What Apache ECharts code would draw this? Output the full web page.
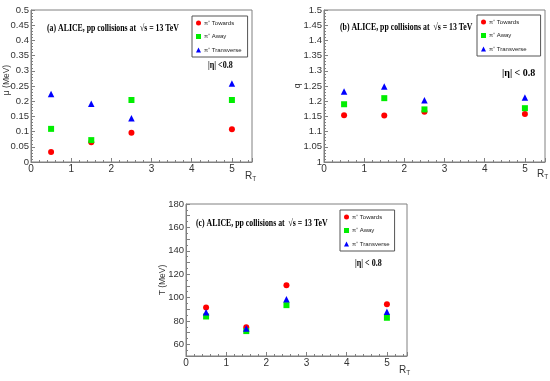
<!DOCTYPE html>
<html>
<head>
<meta charset="utf-8">
<script src="https://cdn.jsdelivr.net/npm/echarts@6/dist/echarts.min.js"></script>
<style>html,body{margin:0;padding:0;background:#fff}#c{width:550px;height:381px}</style>
</head>
<body>
<div id="c"></div>
<script>
const rT = [0.5, 1.5, 2.5, 5];
const seriesNames = ['π⁺ Towards', 'π⁺ Away', 'π⁺ Transverse'];
const muTowards = [0.033, 0.065, 0.096, 0.108];
const muAway = [0.109, 0.072, 0.204, 0.204];
const muTransverse = [0.224, 0.192, 0.144, 0.258];
const qTowards = [1.154, 1.153, 1.165, 1.158];
const qAway = [1.190, 1.210, 1.173, 1.177];
const qTransverse = [1.232, 1.248, 1.203, 1.212];
const tTowards = [91.5, 74.5, 110.5, 94.3];
const tAway = [83.8, 71.3, 93.5, 82.7];
const tTransverse = [87.5, 73.6, 98.6, 87.8];

const panelData = [
  [muTowards, muAway, muTransverse],
  [qTowards, qAway, qTransverse],
  [tTowards, tAway, tTransverse]
];
const symbols = ['circle', 'rect', 'triangle'];
const colors = ['#ff0000', '#00ee00', '#0000ff'];
const symSizes = [6, 6, 6.5];

const chart = echarts.init(document.getElementById('c'), null, {renderer: 'canvas'});
const axisGray = '#808080';
const labelColor = '#333';
const sans = '"Liberation Sans", Arial, sans-serif';
const serif = '"Liberation Serif", "Times New Roman", serif';

const grids = [
  {left: 31, top: 10, width: 221, height: 152},
  {left: 324, top: 10, width: 221, height: 152},
  {left: 186, top: 204, width: 221, height: 152}
].map(g => Object.assign({show: true, borderColor: axisGray, borderWidth: 1, backgroundColor: 'transparent',
  containLabel: false, outerBoundsMode: 'none'}, g));

function xAxis(i) {
  return {
    type: 'value', gridIndex: i, min: 0, max: 5.5, interval: 1,
    axisLine: {show: true, lineStyle: {color: axisGray}},
    axisTick: {show: true, inside: true, length: 4, lineStyle: {color: axisGray}},
    minorTick: {show: true, splitNumber: 5, length: 2, lineStyle: {color: axisGray}},
    splitLine: {show: false},
    axisLabel: {show: true, color: labelColor, fontFamily: sans, fontSize: 10, margin: 2,
      formatter: v => (Math.abs(v - Math.round(v)) < 1e-9 ? String(Math.round(v)) : '')}
  };
}
function yAxis(i, o) {
  return Object.assign({
    type: 'value', gridIndex: i,
    nameLocation: 'middle',
    nameMoveOverlap: false,
    nameTextStyle: {color: labelColor, fontFamily: sans, fontSize: 8.5},
    axisLine: {show: true, lineStyle: {color: axisGray}},
    axisTick: {show: true, inside: true, length: 4, lineStyle: {color: axisGray}},
    minorTick: {show: true, splitNumber: 5, length: 2, lineStyle: {color: axisGray}},
    splitLine: {show: false},
    axisLabel: {show: true, color: labelColor, fontFamily: sans, fontSize: 9.5, margin: 2}
  }, o);
}

const yAxes = [
  yAxis(0, {min: 0, max: 0.5, interval: 0.05}),
  yAxis(1, {min: 1, max: 1.5, interval: 0.05, name: 'q', nameGap: 22}),
  yAxis(2, {min: 50, max: 180, interval: 10, name: 'T (MeV)', nameGap: 19,
    minorTick: {show: true, splitNumber: 2, length: 2, lineStyle: {color: axisGray}}})
];
yAxes[2].axisLabel = Object.assign({}, yAxes[2].axisLabel, {formatter: v => (v % 20 === 0 ? String(v) : '')});

const series = [];
panelData.forEach((sets, gi) => {
  sets.forEach((vals, si) => {
    series.push({
      type: 'scatter', name: seriesNames[si], xAxisIndex: gi, yAxisIndex: gi,
      symbol: symbols[si], symbolSize: symSizes[si],
      itemStyle: {color: colors[si], opacity: 1},
      data: rT.map((x, k) => [x, vals[k]])
    });
  });
});

function legend(left, top, padRight) {
  return {
    left: left, top: top, orient: 'vertical',
    data: seriesNames,
    itemWidth: 5, itemHeight: 5, itemGap: 7.5,
    padding: [4, padRight, 4, 4],
    borderColor: '#555', borderWidth: 1, backgroundColor: '#fff',
    textStyle: {fontFamily: sans, fontSize: 6, color: '#222', padding: [0, 0, 0, -2]},
    selectedMode: false
  };
}

const titles = [
  {x: 47, y: 28, sx: 0.78, t: '(a) ALICE, pp collisions at  √s = 13 TeV'},
  {x: 340, y: 27, sx: 0.78, t: '(b) ALICE, pp collisions at  √s = 13 TeV'},
  {x: 196, y: 223, sx: 0.78, t: '(c) ALICE, pp collisions at  √s = 13 TeV'}
];
const etas = [
  {x: 208, y: 65, sx: 0.8, t: '|η| <0.8'},
  {x: 502, y: 73, sx: 1.0, t: '|η| < 0.8'},
  {x: 355, y: 263, sx: 0.8, t: '|η| < 0.8'}
];
const rts = [
  {x: 245, y: 176},
  {x: 537, y: 174},
  {x: 399, y: 370}
];

const graphic = [];
titles.concat(etas).forEach(o => {
  graphic.push({
    type: 'text', x: o.x, y: o.y, scaleX: o.sx, z: 100,
    style: {text: o.t, font: 'bold 10px ' + serif, fill: '#000',
      textAlign: 'left', textVerticalAlign: 'middle', align: 'left', verticalAlign: 'middle'}
  });
});
graphic.push({
  type: 'text', x: 7, y: 80, rotation: Math.PI / 2, z: 100,
  style: {text: 'μ (MeV)', font: '8.5px ' + sans, fill: labelColor,
    textAlign: 'center', textVerticalAlign: 'middle', align: 'center', verticalAlign: 'middle'}
});
rts.forEach(o => {
  graphic.push({
    type: 'text', x: o.x, y: o.y, z: 100,
    style: {text: '{r|R}{t|T}', fill: labelColor,
      textAlign: 'left', textVerticalAlign: 'middle', align: 'left', verticalAlign: 'middle',
      rich: {
        r: {fontFamily: sans, fontSize: 10, color: labelColor, lineHeight: 14, verticalAlign: 'middle'},
        t: {fontFamily: sans, fontSize: 6.5, color: labelColor, lineHeight: 14, verticalAlign: 'bottom', padding: [6, 0, 0, 0]}
      }}
  });
});

chart.setOption({
  animation: false,
  backgroundColor: '#fff',
  grid: grids,
  xAxis: [xAxis(0), xAxis(1), xAxis(2)],
  yAxis: yAxes,
  legend: [legend(192, 16, 6), legend(477, 15, 14), legend(340, 210, 5)],
  series: series,
  graphic: graphic
});
</script>
</body>
</html>
